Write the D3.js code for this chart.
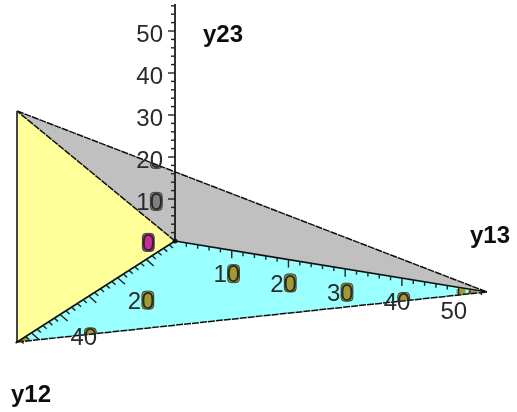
<!DOCTYPE html>
<html>
<head>
<meta charset="utf-8">
<script src="https://cdn.jsdelivr.net/npm/d3@7"></script>
<style>
  html, body { margin: 0; padding: 0; background: #fff; }
  svg { display: block; }
  text { font-family: "Liberation Sans", Arial, sans-serif; }
</style>
</head>
<body>
<svg id="chart" width="517" height="412"></svg>
<script>
// axis limits and tick values
const axisEnds = { y12: 55.5, y13: 55, y23: 56.4 }
const regionLimit = 55
const y12Ticks = d3.range(2, 56, 2)
const y13Ticks = d3.range(2, 56, 2)
const y23Ticks = d3.range(2, 57, 2)
const y12Labels = [20, 40]
const y13Labels = [10, 20, 30, 40, 50]
const y23Labels = [0, 10, 20, 30, 40, 50]
const y13TailMarks = [50.5, 52.5]
const y12TailMarks = [52.5]

const svg = d3.select("#chart")
const defs = svg.append("defs")
defs.append("filter").attr("id", "soft")
  .append("feGaussianBlur").attr("stdDeviation", 0.35)

const root = svg.append("g").attr("filter", "url(#soft)")

// oblique projection: each axis gets its own pixel scales
const origin = [175, 241]
const y12X = d3.scaleLinear().domain([0, 55]).range([0, -158])
const y12Y = d3.scaleLinear().domain([0, 55]).range([0, 101])
const y13X = d3.scaleLinear().domain([0, 55]).range([0, 312])
const y13Y = d3.scaleLinear().domain([0, 55]).range([0, 51])
const y23Y = d3.scaleLinear().domain([0, 55]).range([0, -231])

const project = (a, b, c) => [
  origin[0] + y12X(a) + y13X(b),
  origin[1] + y12Y(a) + y13Y(b) + y23Y(c)
]

const O = project(0, 0, 0)
const P1 = project(regionLimit, 0, 0)
const P2 = project(regionLimit, 0, regionLimit)
const P3 = project(0, regionLimit, 0)

const surfaces = [
  { id: "yellow", pts: [O, P1, P2], fill: "#ffff99", glyph: "#cc2a99" },
  { id: "grey", pts: [O, P2, P3], fill: "#c0c0c0", glyph: "#808080" },
  { id: "cyan", pts: [O, P1, P3], fill: "#99ffff", glyph: "#a09a30" }
]
const line = d3.line()

root.append("g").selectAll("path")
  .data(surfaces)
  .join("path")
  .attr("d", d => line(d.pts) + "Z")
  .attr("fill", d => d.fill)

// label anchors (right edge of the text), all relative to the axis point
const labels = [
  ...y23Labels.map(v => {
    const p = project(0, 0, v)
    return { text: v, x: p[0] + (v === 0 ? -20 : -12), y: p[1] + (v === 0 ? 10 : 11) }
  }),
  ...y13Labels.map(v => {
    const p = project(0, v, 0)
    return { text: v, x: p[0] + 8.5, y: p[1] + 32 }
  }),
  ...y12Labels.map(v => {
    const p = project(v, 0, 0)
    return { text: v, x: p[0] + 37, y: p[1] + 31 }
  })
]

const tails = [
  ...y13TailMarks.map(v => { const p = project(0, v, 0); return { x: p[0] - 5, y: p[1] + 1, w: 9, h: 6 } }),
  ...y12TailMarks.map(v => { const p = project(v, 0, 0); return { x: p[0] - 6, y: p[1] - 1, w: 10, h: 6 } })
]

// the counters of the zeros pick up a colour from the surface under them
surfaces.forEach(s => {
  defs.append("clipPath").attr("id", "clip-" + s.id)
    .append("path").attr("d", line(s.pts) + "Z")
  const g = root.append("g").attr("clip-path", `url(#clip-${s.id})`)
  g.selectAll("rect.zero")
    .data(labels)
    .join("rect")
    .attr("class", "zero")
    .attr("x", d => d.x - 12.6).attr("y", d => d.y - 17.6)
    .attr("width", 11.8).attr("height", 18)
    .attr("rx", 3.5)
    .attr("fill", s.glyph)
    .attr("stroke", "#333")
    .attr("stroke-width", 0.9)
  if (s.id === "cyan") {
    g.selectAll("rect.tail")
      .data(tails)
      .join("rect")
      .attr("class", "tail")
      .attr("x", d => d.x).attr("y", d => d.y)
      .attr("width", d => d.w).attr("height", d => d.h)
      .attr("rx", 1.5)
      .attr("fill", s.glyph)
  }
})

// outline of the region
const edges = [[P2, P3], [O, P2], [P1, P3]]
root.append("g").selectAll("path")
  .data(edges)
  .join("path")
  .attr("d", d => line(d))
  .attr("fill", "none")
  .attr("stroke", "#111")
  .attr("stroke-width", 1.5)
  .attr("stroke-dasharray", "7 1")

root.append("path")
  .attr("d", line([P1, P2]))
  .attr("stroke", "#444")
  .attr("stroke-width", 2)

// axes
const axes = [
  [O, project(0, 0, axisEnds.y23)],
  [O, project(axisEnds.y12, 0, 0)],
  [O, project(0, axisEnds.y13, 0)]
]
root.append("g").selectAll("path")
  .data(axes)
  .join("path")
  .attr("d", d => line(d))
  .attr("fill", "none")
  .attr("stroke", "#111")
  .attr("stroke-width", 1.7)

// ticks: every 10 is a long one
const tickSegs = [
  ...y23Ticks.map(v => ({ p: project(0, 0, v), dir: [-1, 0], len: v % 10 === 0 ? 7 : 4 })),
  ...y13Ticks.map(v => ({ p: project(0, v, 0), dir: [0, 1], len: v % 10 === 0 ? 8 : 4 })),
  ...y12Ticks.map(v => ({ p: project(v, 0, 0), dir: [0.75, 0.66], len: v % 10 === 0 ? 10 : 5 }))
]
root.append("g").selectAll("line")
  .data(tickSegs)
  .join("line")
  .attr("x1", d => d.p[0]).attr("y1", d => d.p[1])
  .attr("x2", d => d.p[0] + d.dir[0] * d.len)
  .attr("y2", d => d.p[1] + d.dir[1] * d.len)
  .attr("stroke", "#222")
  .attr("stroke-width", 1.4)

root.append("circle")
  .attr("cx", O[0]).attr("cy", O[1]).attr("r", 2.5)
  .attr("fill", "#111")

// tick labels
root.append("g").selectAll("text")
  .data(labels)
  .join("text")
  .attr("x", d => d.x).attr("y", d => d.y)
  .attr("text-anchor", "end")
  .attr("font-size", 24)
  .attr("fill", "#2a2a2a")
  .text(d => d.text)

// axis titles
const titles = [
  { text: "y23", x: 203, y: 42 },
  { text: "y13", x: 470, y: 243 },
  { text: "y12", x: 11, y: 402 }
]
root.append("g").selectAll("text")
  .data(titles)
  .join("text")
  .attr("x", d => d.x).attr("y", d => d.y)
  .attr("font-size", 24)
  .attr("font-weight", "bold")
  .attr("fill", "#111")
  .text(d => d.text)
</script>
</body>
</html>
